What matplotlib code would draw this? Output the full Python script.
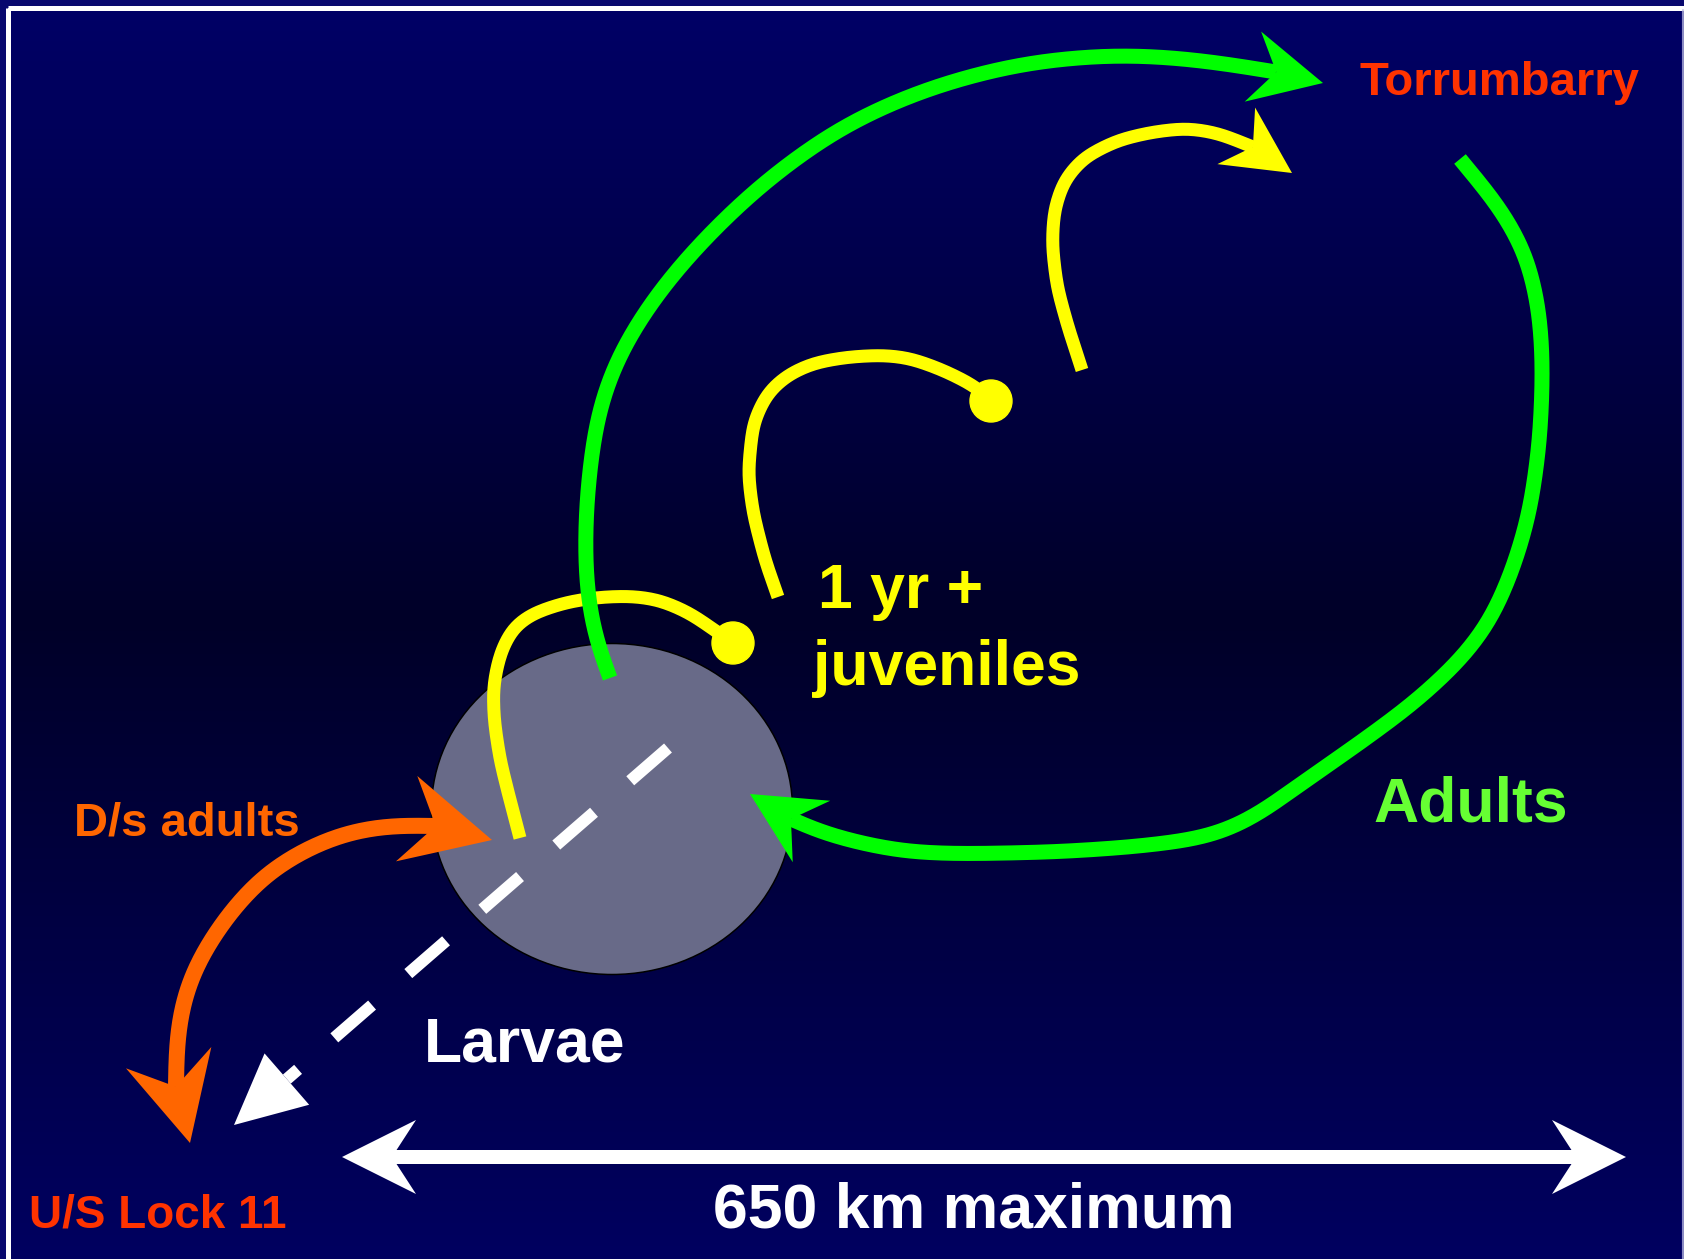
import numpy as np
import matplotlib
matplotlib.use("Agg")
import matplotlib.pyplot as plt
from matplotlib.patches import Ellipse, Polygon, Rectangle

# canvas is in image pixels (1684 x 1259), y grows downwards
W, H = 1684, 1259
PX = 0.72  # points per pixel at dpi=100

# waypoints of the migration paths (pixels)
green_up = [(610, 678), (600, 655), (592, 625), (587, 593), (585, 560), (586, 507),
            (591, 457), (597, 417), (608, 380), (623, 347), (647, 308), (677, 269),
            (713, 230), (753, 192), (793, 160), (837, 130), (880, 108), (927, 89),
            (977, 74), (1027, 63), (1080, 57), (1127, 55), (1180, 58), (1228, 64),
            (1276, 72)]
green_up_tip = (1323, 83)

green_back = [(1460, 159), (1500, 207), (1527, 254), (1540, 312), (1543, 369),
              (1540, 441), (1530, 513), (1513, 570), (1490, 623), (1460, 661),
              (1413, 704), (1350, 750), (1300, 784), (1263, 812), (1230, 830),
              (1200, 839), (1133, 847), (1056, 852), (960, 854), (903, 852),
              (846, 840), (807, 828), (791, 819)]
green_back_tip = (750, 794)

yellow_low = [(520, 838), (510, 800), (500, 760), (494, 720), (493, 687), (500, 653),
              (513, 627), (533, 613), (567, 602), (600, 597), (633, 596), (660, 600),
              (690, 613), (733, 643)]
yellow_mid = [(778, 597), (765, 560), (753, 513), (748, 473), (753, 423), (767, 393),
              (787, 375), (813, 363), (847, 357), (883, 355), (910, 358), (943, 370),
              (977, 387), (991, 401)]
yellow_top = [(1082, 370), (1068, 327), (1057, 287), (1052, 245), (1054, 210),
              (1064, 180), (1084, 157), (1118, 140), (1152, 132), (1187, 128),
              (1218, 133), (1253, 147)]
yellow_top_tip = (1292, 173)
yellow_dots = [(733, 643), (991, 401)]

orange = [(436, 826), (400, 825), (367, 828), (333, 837), (300, 852), (267, 873),
          (240, 900), (217, 930), (197, 963), (185, 993), (178, 1027), (176, 1060),
          (176, 1087)]
orange_tips = [(492, 840), (190, 1143)]

larvae_start = (668, 748)
larvae_tip = (234, 1125)

span_y = 1157
span_tips = (342, 1626)

pond_center = (612, 809)
pond_size = (361, 331)

labels = [
    ("Torrumbarry", 1359, 95, 34, "#FF3300"),
    ("1 yr +", 818, 608, 45, "#FFFF00"),
    ("juveniles", 813, 685, 45, "#FFFF00"),
    ("Adults", 1373, 821, 45, "#66FF33"),
    ("D/s adults", 74, 835, 34, "#FF6600"),
    ("U/S Lock 11", 29, 1228, 33, "#FF3300"),
    ("Larvae", 424, 1062, 45, "#FFFFFF"),
    ("650 km maximum", 713, 1228, 45, "#FFFFFF"),
]


def smooth(pts, sigma, step=2.0):
    # resample the polyline evenly, then gaussian-smooth it (ends kept in place)
    p = np.array(pts, float)
    seg = np.hypot(*np.diff(p, axis=0).T)
    s = np.concatenate([[0], np.cumsum(seg)])
    ss = np.append(np.arange(0, s[-1], step), s[-1])
    q = np.column_stack([np.interp(ss, s, p[:, 0]), np.interp(ss, s, p[:, 1])])
    k = min(int(3 * sigma / step), len(q) - 2)
    kern = np.exp(-0.5 * (np.arange(-k, k + 1) * step / sigma) ** 2)
    kern /= kern.sum()
    head_pad = 2 * q[0] - q[1:k + 1][::-1]
    tail_pad = 2 * q[-1] - q[-k - 1:-1][::-1]
    qq = np.vstack([head_pad, q, tail_pad])
    x = np.convolve(qq[:, 0], kern, mode="valid")
    y = np.convolve(qq[:, 1], kern, mode="valid")
    return np.column_stack([x, y])


def head(ax, tip, d, color, L, Hw, notch, z):
    tip = np.array(tip, float)
    d = np.array(d, float)
    d = d / np.hypot(*d)
    nrm = np.array([-d[1], d[0]])
    back = tip - L * d
    pts = [tip, back + Hw * nrm, tip - notch * d, back - Hw * nrm]
    ax.add_patch(Polygon(pts, closed=True, facecolor=color, edgecolor="none", zorder=z))


def curve(ax, pts, color, lw_px, z, sigma):
    c = smooth(pts, sigma)
    ax.plot(c[:, 0], c[:, 1], color=color, lw=lw_px * PX, solid_capstyle="butt",
            solid_joinstyle="round", zorder=z)


fig = plt.figure(figsize=(W / 100, H / 100), dpi=100, facecolor="#08086e")
ax = fig.add_axes([0, 0, 1, 1])
ax.set_xlim(0, W)
ax.set_ylim(H, 0)
ax.axis("off")

# background gradient
yy = np.linspace(10, H, 400)
blue = np.interp(yy, [10, 620, H], [102, 40, 96]) / 255.0
grad = np.zeros((len(yy), 1, 3))
grad[:, 0, 2] = blue
ax.imshow(grad, extent=(10, 1681, H, 10), aspect="auto", interpolation="bilinear", zorder=0)
ax.add_patch(Rectangle((7.5, 7.5), W + 20, H + 20, fill=False, edgecolor="white",
                       lw=5 * PX, zorder=0.5))
ax.plot([1682.5, 1682.5], [10, H], color="#b8b8e0", lw=1.5 * PX, zorder=0.5)

# pond
ax.add_patch(Ellipse(pond_center, pond_size[0], pond_size[1], facecolor="#686a88",
                     edgecolor="black", lw=1.5 * PX, zorder=1))

# juveniles
curve(ax, yellow_low, "#FFFF00", 13, 2, 12)
curve(ax, yellow_mid, "#FFFF00", 13, 2, 12)
curve(ax, yellow_top, "#FFFF00", 13, 2, 12)
head(ax, yellow_top_tip, np.subtract(yellow_top_tip, yellow_top[-1]), "#FFFF00", 67, 34, 47, 2)
for cx, cy in yellow_dots:
    ax.add_patch(plt.Circle((cx, cy), 21, color="#FFFF00", zorder=2))

# adults
curve(ax, green_up, "#00FF00", 15, 3, 28)
head(ax, green_up_tip, np.subtract(green_up_tip, green_up[-1]), "#00FF00", 72, 36, 48, 3)
curve(ax, green_back, "#00FF00", 15, 3, 26)
head(ax, green_back_tip, np.subtract(green_back_tip, green_back[-1]), "#00FF00", 72, 36, 48, 3)

# downstream adults
curve(ax, orange, "#FF6600", 16, 4, 22)
head(ax, orange_tips[0], np.subtract(orange_tips[0], orange[0]), "#FF6600", 88, 44, 58, 4)
head(ax, orange_tips[1], np.subtract(orange_tips[1], orange[-1]), "#FF6600", 88, 44, 58, 4)

# larvae drift (dashed, triangle head)
s = np.array(larvae_start, float)
tp = np.array(larvae_tip, float)
d = (tp - s) / np.hypot(*(tp - s))
e = tp - 70 * d
total = np.hypot(*(e - s))
pos = 0.0
while pos < total:
    a = s + d * pos
    b = s + d * min(pos + 50, total)
    ax.plot([a[0], b[0]], [a[1], b[1]], color="white", lw=12 * PX,
            solid_capstyle="butt", zorder=5)
    pos += 98
head(ax, larvae_tip, d, "white", 70, 34, 70, 5)

# 650 km span
ax.plot([span_tips[0] + 50, span_tips[1] - 50], [span_y, span_y], color="white",
        lw=14 * PX, solid_capstyle="butt", zorder=5)
head(ax, (span_tips[0], span_y), (-1, 0), "white", 74, 37, 50, 5)
head(ax, (span_tips[1], span_y), (1, 0), "white", 74, 37, 50, 5)

for txt, x, y, size, col in labels:
    ax.text(x, y, txt, color=col, fontsize=size, fontweight="bold",
            family="Liberation Sans", ha="left", va="baseline", zorder=6)

fig.savefig("out.png", dpi=100, facecolor=fig.get_facecolor())
